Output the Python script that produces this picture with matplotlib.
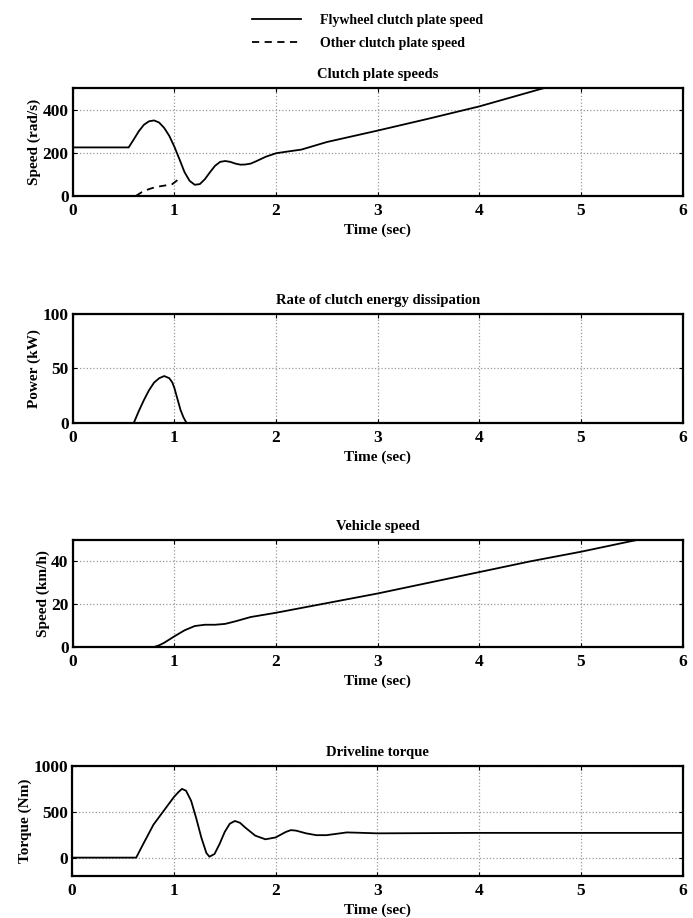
import matplotlib
matplotlib.use("Agg")
import matplotlib.pyplot as plt

# Velocidades de los platos del embrague (rad/s)
t_fly = [0, 0.55, 0.6, 0.65, 0.7, 0.75, 0.8, 0.85, 0.9, 0.95, 1.0, 1.05, 1.1, 1.15, 1.2, 1.25,
         1.3, 1.35, 1.4, 1.45, 1.5, 1.55, 1.6, 1.65, 1.7, 1.75, 1.8, 1.9, 2.0, 2.1, 2.25,
         2.5, 3.0, 3.5, 4.0, 4.6, 5.0, 6.0]
w_fly = [225, 225, 262, 300, 330, 346, 350, 340, 315, 278, 228, 170, 110, 70, 52, 55,
         78, 110, 140, 158, 162, 158, 150, 145, 146, 150, 160, 182, 198, 205, 215,
         250, 303, 358, 415, 495, 545, 660]
t_other = [0, 0.62, 0.68, 0.75, 0.82, 0.9, 0.98, 1.02, 1.06]
w_other = [0, 0, 18, 32, 42, 48, 55, 70, 85]

# Potencia disipada en el embrague (kW)
t_pow = [0, 0.6, 0.65, 0.7, 0.75, 0.8, 0.85, 0.9, 0.95, 0.98, 1.0, 1.03, 1.06, 1.09, 1.12, 6.0]
p_pow = [0, 0, 11, 21, 30, 37, 41, 43, 41, 37, 32, 22, 12, 5, 0, 0]

# Velocidad del vehículo (km/h)
t_veh = [0, 0.8, 0.85, 0.9, 1.0, 1.1, 1.2, 1.3, 1.4, 1.5, 1.6, 1.75, 2.0, 2.5, 3.0,
         3.5, 4.0, 4.5, 5.0, 5.5, 6.0]
v_veh = [0, 0, 0.8, 2, 5, 7.8, 9.8, 10.4, 10.4, 10.8, 12, 14, 16, 20.5, 25,
         30, 35, 40, 44.5, 49.5, 54]

# Par en la línea de transmisión (Nm)
t_tq = [0, 0.63, 0.7, 0.8, 0.9, 1.0, 1.05, 1.08, 1.12, 1.17, 1.22, 1.27, 1.32, 1.35, 1.4,
        1.45, 1.5, 1.55, 1.6, 1.65, 1.7, 1.8, 1.9, 2.0, 2.1, 2.15, 2.2, 2.3, 2.4, 2.5,
        2.6, 2.7, 2.8, 3.0, 4.0, 6.0]
q_tq = [0, 0, 150, 360, 510, 660, 720, 750, 730, 620, 430, 220, 50, 10, 40,
        150, 280, 370, 400, 380, 330, 240, 200, 220, 280, 300, 295, 265, 245, 245,
        260, 275, 272, 265, 270, 270]

xticks = [0, 1, 2, 3, 4, 5, 6]

plt.rcParams['font.family'] = ['Liberation Serif', 'DejaVu Serif']
plt.rcParams['font.weight'] = 'bold'
plt.rcParams['axes.titleweight'] = 'bold'
plt.rcParams['axes.labelweight'] = 'bold'
plt.rcParams['font.size'] = 11

fig = plt.figure(figsize=(6.93, 9.18), dpi=100)

paneles = [
    ([0.105, 0.7865, 0.880, 0.1176], "Clutch plate speeds", "Speed (rad/s)", (0, 500), [0, 200, 400]),
    ([0.105, 0.5392, 0.880, 0.1190], "Rate of clutch energy dissipation", "Power (kW)", (0, 100), [0, 50, 100]),
    ([0.105, 0.2952, 0.880, 0.1166], "Vehicle speed", "Speed (km/h)", (0, 50), [0, 20, 40]),
    ([0.104, 0.0458, 0.881, 0.1198], "Driveline torque", "Torque (Nm)", (-200, 1000), [0, 500, 1000]),
]

axes = []
for pos, titulo, ylab, ylim, yticks in paneles:
    ax = fig.add_axes(pos)
    ax.set_xlim(0, 6)
    ax.set_ylim(*ylim)
    ax.set_xticks(xticks)
    ax.set_yticks(yticks)
    ax.set_title(titulo, fontsize=10.5, pad=7)
    ax.set_xlabel("Time (sec)", labelpad=3)
    ax.set_ylabel(ylab, labelpad=1)
    ax.grid(True, linestyle=':', color='#999999', linewidth=0.9)
    ax.tick_params(direction='in', top=True, right=True, length=3, labelsize=12.5)
    ax.tick_params(axis='x', pad=5)
    ax.tick_params(axis='y', pad=3)
    for s in ax.spines.values():
        s.set_linewidth(1.6)
    axes.append(ax)

l1, = axes[0].plot(t_fly, w_fly, color='black', lw=1.3)
l2, = axes[0].plot(t_other, w_other, color='black', lw=1.3, ls=(0, (4, 3)))
axes[1].plot(t_pow, p_pow, color='black', lw=1.3)
axes[2].plot(t_veh, v_veh, color='black', lw=1.3)
axes[3].plot(t_tq, q_tq, color='black', lw=1.3)

fig.legend([l1, l2], ["Flywheel clutch plate speed", "Other clutch plate speed"],
           loc='upper left', bbox_to_anchor=(0.35, 0.995), frameon=False,
           handlelength=3.5, handletextpad=1.4, borderpad=0.2, labelspacing=0.7,
           fontsize=10)

fig.savefig("out.png", dpi=100)
